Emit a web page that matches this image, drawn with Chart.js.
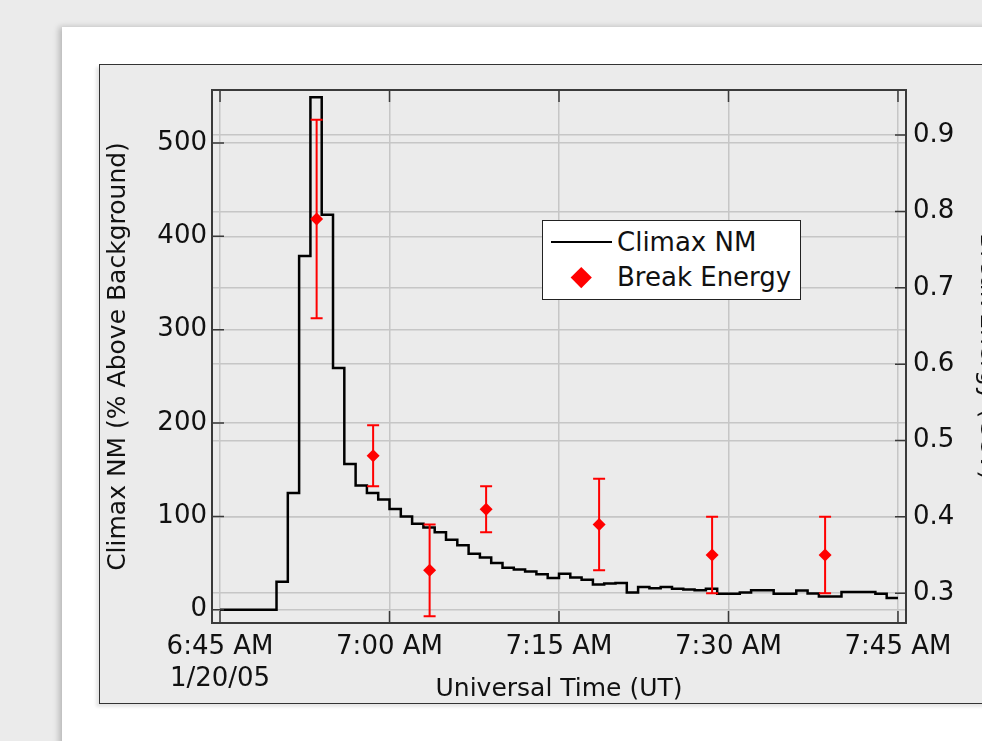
<!DOCTYPE html>
<html>
<head>
<meta charset="utf-8">
<script src="https://cdn.jsdelivr.net/npm/chart.js@4.4.1/dist/chart.umd.min.js"></script>
<style>
  html, body { margin: 0; padding: 0; width: 982px; height: 741px; overflow: hidden; background: #ebebeb; font-family: "DejaVu Sans", sans-serif; }
  #card { position: absolute; left: 62px; top: 27px; width: 1000px; height: 800px; background: #fff; box-shadow: -3px 0 6px rgba(0,0,0,0.22); }
  #panel { position: absolute; left: 99px; top: 64px; width: 980px; height: 640px; box-sizing: border-box; background: #ebebeb; border: 1.5px solid #333; box-shadow: -3px 3px 3px rgba(0,0,0,0.10); }
  #chartBox { position: absolute; left: 100px; top: 65px; width: 920px; height: 640px; }
  #legend { position: absolute; left: 542px; top: 220px; width: 259px; height: 80px; box-sizing: border-box; background: #fff; border: 1.5px solid #222; font-size: 26px; line-height: 26px; color: #111; }
  #legend .ln { position: absolute; left: 7.5px; top: 19.5px; width: 61px; height: 2px; background: #000; }
  #legend .dia { position: absolute; left: 31px; top: 49px; width: 14.5px; height: 14.5px; background: #ff0000; transform: rotate(45deg); }
  #legend .t1 { position: absolute; left: 74px; top: 8px; white-space: nowrap; }
  #legend .t2 { position: absolute; left: 74px; top: 43px; white-space: nowrap; }
</style>
</head>
<body>
<div id="card"></div>
<div id="panel"></div>
<div id="chartBox"><canvas id="grafico"></canvas></div>
<div id="legend">
  <div class="ln"></div><div class="t1">Climax NM</div>
  <div class="dia"></div><div class="t2">Break Energy</div>
</div>
<script>
// minutes after 6:45 AM UT, 1/20/05, one-minute bins
const climaxNM = [0, 0, 0, 0, 0, 30, 125, 379, 549, 423,
  259, 156, 133, 125, 118, 108, 100, 92, 88, 83,
  75, 69, 60, 56, 50, 45, 43, 41, 38, 34,
  38.5, 34.6, 32, 27, 28, 28.7, 18.5, 24.3, 23, 24.3,
  22.5, 21.7, 21, 22.5, 17, 17, 18.5, 21, 21, 17,
  17, 20.7, 17.3, 14.3, 14.3, 19, 19, 19, 17, 12.5];

const breakMinutes = [8.55, 13.55, 18.55, 23.55, 33.55, 43.55, 53.55];
const breakEnergy = [0.79, 0.48, 0.33, 0.41, 0.39, 0.35, 0.35];
const breakLow = [0.66, 0.44, 0.27, 0.38, 0.33, 0.30, 0.30];
const breakHigh = [0.92, 0.52, 0.39, 0.44, 0.45, 0.40, 0.40];

const xTickMinutes = [0, 15, 30, 45, 60];
const xTickLabels = [["6:45 AM", "1/20/05"], "7:00 AM", "7:15 AM", "7:30 AM", "7:45 AM"];
const leftTicks = [0, 100, 200, 300, 400, 500];
const rightTicks = [0.3, 0.4, 0.5, 0.6, 0.7, 0.8, 0.9];

const stepPoints = climaxNM.map((v, i) => ({ x: i, y: v }));
stepPoints.push({ x: climaxNM.length, y: climaxNM[climaxNM.length - 1] });

Chart.defaults.font.family = "'DejaVu Sans', sans-serif";
Chart.defaults.color = "#111";

const frame = {
    id: "frame",
    beforeDatasetDraw(chart, args) {
        if (args.index !== 1) return;
        const { ctx } = chart;
        const xs = chart.scales.x, ys = chart.scales.y1;
        ctx.save();
        ctx.strokeStyle = "#ff0000";
        ctx.lineWidth = 2;
        ctx.beginPath();
        breakMinutes.forEach((m, i) => {
            const px = xs.getPixelForValue(m);
            const lo = ys.getPixelForValue(breakLow[i]);
            const hi = ys.getPixelForValue(breakHigh[i]);
            ctx.moveTo(px, lo); ctx.lineTo(px, hi);
            ctx.moveTo(px - 6, lo); ctx.lineTo(px + 6, lo);
            ctx.moveTo(px - 6, hi); ctx.lineTo(px + 6, hi);
        });
        ctx.stroke();
        ctx.restore();
    },
    afterDraw(chart) {
        const { ctx, chartArea: a, scales } = chart;
        ctx.save();
        ctx.strokeStyle = "#3a3a3a";
        ctx.lineWidth = 1.5;
        ctx.beginPath();
        scales.x.ticks.forEach(t => {
            const px = scales.x.getPixelForValue(t.value);
            ctx.moveTo(px, a.bottom); ctx.lineTo(px, a.bottom - 12);
            ctx.moveTo(px, a.top); ctx.lineTo(px, a.top + 12);
        });
        scales.y.ticks.forEach(t => {
            const py = scales.y.getPixelForValue(t.value);
            ctx.moveTo(a.left, py); ctx.lineTo(a.left + 12, py);
        });
        scales.y1.ticks.forEach(t => {
            const py = scales.y1.getPixelForValue(t.value);
            ctx.moveTo(a.right, py); ctx.lineTo(a.right - 11, py);
        });
        ctx.stroke();
        ctx.lineWidth = 2;
        ctx.strokeRect(a.left, a.top, a.right - a.left, a.bottom - a.top);
        ctx.restore();
    }
};

const ctxGrafico = document.getElementById("grafico");

new Chart(ctxGrafico, {
    type: "line",
    data: {
        datasets: [{
            label: "Climax NM",
            data: stepPoints,
            yAxisID: "y",
            borderColor: "#000",
            borderWidth: 2.5,
            pointRadius: 0,
            stepped: "before",
            fill: false,
            order: 2
        }, {
            label: "Break Energy",
            type: "scatter",
            data: breakMinutes.map((m, i) => ({ x: m, y: breakEnergy[i] })),
            yAxisID: "y1",
            pointStyle: "rectRot",
            pointRadius: 6.5,
            backgroundColor: "#ff0000",
            borderColor: "#ff0000",
            borderWidth: 0,
            order: 1
        }]
    },
    options: {
        responsive: true,
        maintainAspectRatio: false,
        animation: false,
        layout: { padding: { top: 25, left: 0, right: 0, bottom: 0 } },
        plugins: { legend: { display: false }, tooltip: { enabled: false } },
        scales: {
            x: {
                type: "linear",
                min: -0.71,
                max: 60.71,
                afterBuildTicks: s => { s.ticks = xTickMinutes.map(v => ({ value: v })); },
                afterFit: s => { s.height = 82; },
                ticks: {
                    padding: 9,
                    maxRotation: 0,
                    autoSkip: false,
                    font: { size: 26 },
                    color: "#111",
                    callback: (v, i) => xTickLabels[i]
                },
                grid: { color: "#c6c6c6", lineWidth: 1.5, drawTicks: false },
                border: { display: false },
                title: { display: true, text: "Universal Time (UT)", font: { size: 25 }, color: "#111", padding: { top: 0, bottom: 1 } }
            },
            y: {
                position: "left",
                min: -14.2,
                max: 556.7,
                afterBuildTicks: s => { s.ticks = leftTicks.map(v => ({ value: v })); },
                afterFit: s => { s.width = 112; },
                ticks: { padding: 5, font: { size: 26 }, color: "#111", callback: v => String(v) },
                grid: { color: "#c6c6c6", lineWidth: 1.5, drawTicks: false },
                border: { display: false },
                title: { display: true, text: "Climax NM (% Above Background)", font: { size: 25 }, color: "#111", padding: { top: 3, bottom: 0 } }
            },
            y1: {
                position: "right",
                min: 0.261,
                max: 0.959,
                afterBuildTicks: s => { s.ticks = rightTicks.map(v => ({ value: v })); },
                afterFit: s => { s.width = 114; },
                ticks: { padding: 7, font: { size: 26 }, color: "#111", callback: v => v.toFixed(1) },
                grid: { color: "#c6c6c6", lineWidth: 1.5, drawTicks: false },
                border: { display: false },
                title: { display: true, text: "Break Energy (GeV)", font: { size: 25 }, color: "#111", padding: { top: 18, bottom: 0 } }
            }
        }
    },
    plugins: [frame]
});
</script>
</body>
</html>
